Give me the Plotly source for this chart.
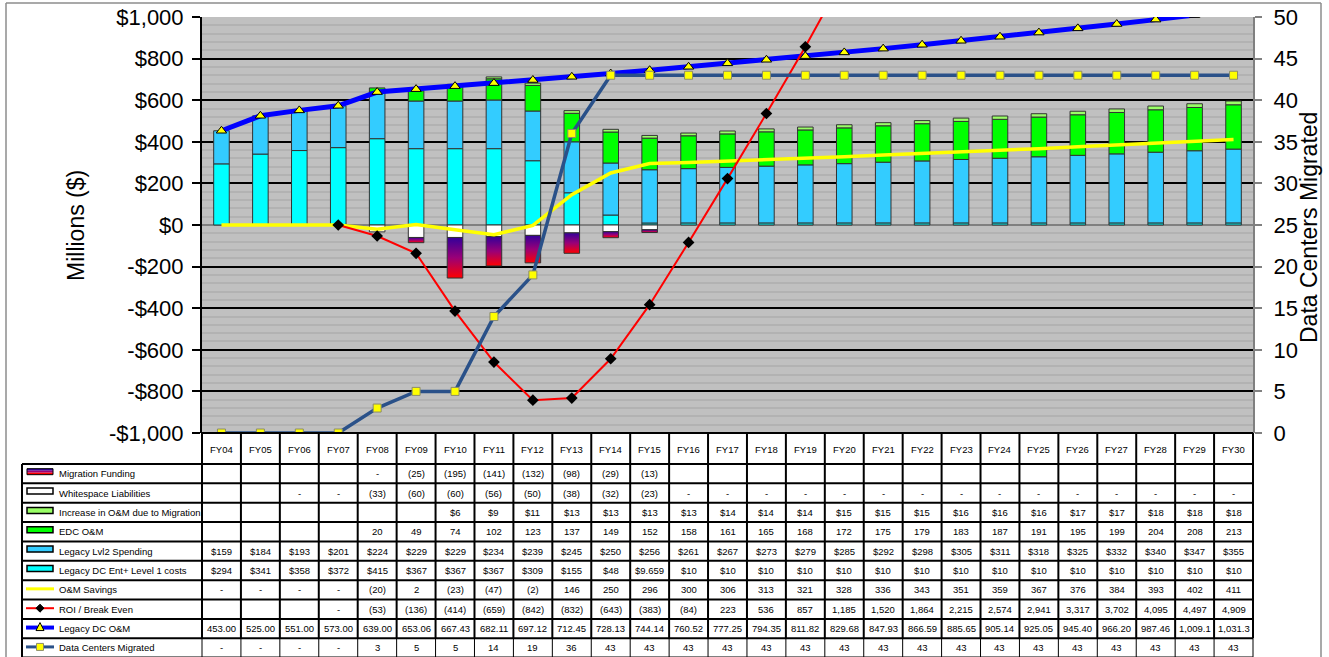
import plotly.graph_objects as go

# ---------------- data ----------------
categories = ["FY04", "FY05", "FY06", "FY07", "FY08", "FY09", "FY10", "FY11", "FY12",
              "FY13", "FY14", "FY15", "FY16", "FY17", "FY18", "FY19", "FY20", "FY21",
              "FY22", "FY23", "FY24", "FY25", "FY26", "FY27", "FY28", "FY29", "FY30"]

migration_funding = [None, None, None, None, 0, -25, -195, -141, -132, -98, -29, -13] + [None] * 15
whitespace = [None, None, 0, 0, -33, -60, -60, -56, -50, -38, -32, -23] + [0] * 15
increase_om = [None] * 6 + [6, 9, 11, 13, 13, 13, 13, 14, 14, 14, 15, 15, 15, 16, 16, 16, 17, 17, 18, 18, 18]
edc_om = [None] * 4 + [20, 49, 74, 102, 123, 137, 149, 152, 158, 161, 165, 168, 172, 175,
                       179, 183, 187, 191, 195, 199, 204, 208, 213]
legacy_lvl2 = [159, 184, 193, 201, 224, 229, 229, 234, 239, 245, 250, 256, 261, 267, 273, 279,
               285, 292, 298, 305, 311, 318, 325, 332, 340, 347, 355]
legacy_ent_l1 = [294, 341, 358, 372, 415, 367, 367, 367, 309, 155, 48, 9.659] + [10] * 15
om_savings = [0, 0, 0, 0, -20, 2, -23, -47, -2, 146, 250, 296, 300, 306, 313, 321, 328, 336,
              343, 351, 359, 367, 376, 384, 393, 402, 411]
roi = [None, None, None, 0, -53, -136, -414, -659, -842, -832, -643, -383, -84, 223, 536, 857,
       1185, 1520, 1864, 2215, 2574, 2941, 3317, 3702, 4095, 4497, 4909]
legacy_dc_om = [453.00, 525.00, 551.00, 573.00, 639.00, 653.06, 667.43, 682.11, 697.12, 712.45,
                728.13, 744.14, 760.52, 777.25, 794.35, 811.82, 829.68, 847.93, 866.59, 885.65,
                905.14, 925.05, 945.40, 966.20, 987.46, 1009.1, 1031.3]
dc_migrated = [0, 0, 0, 0, 3, 5, 5, 14, 19, 36] + [43] * 17

left_tickvals = [-1000, -800, -600, -400, -200, 0, 200, 400, 600, 800, 1000]
left_ticktext = ["-$1,000", "-$800", "-$600", "-$400", "-$200", "$0", "$200", "$400", "$600", "$800", "$1,000"]
right_tickvals = [0, 5, 10, 15, 20, 25, 30, 35, 40, 45, 50]

row_labels = ["Migration Funding", "Whitespace Liabilities", "Increase in O&M due to Migration",
              "EDC O&M", "Legacy Lvl2 Spending", "Legacy DC Ent+ Level 1 costs", "O&M Savings",
              "ROI / Break Even", "Legacy DC O&M", "Data Centers Migrated"]

# ---------------- styles ----------------
FONT = "Liberation Sans, Arial, sans-serif"
C_ENT = "#00FFFF"
C_LVL2 = "#33CCFF"
C_EDC = "#00FF00"
C_INC = "#99FF66"
C_WS = "#FFFFFF"
C_OMS = "#FFFF00"
C_ROI = "#FF0000"
C_LEG = "#0000FF"
C_DC = "#2A5189"
OUTLINE = "#333333"
BAR_W = 0.4
GRAD = [[0, "#FF0000"], [0.5, "#9A0077"], [1, "#33009A"]]

W, H = 1329, 657
L, R, T, B = 202, 1253, 17, 433
N = len(categories)
xs = list(range(N))


def px(x):
    return (x - L) / (R - L)


def py(y):
    return (B - y) / (B - T)


fig = go.Figure()

# stacked bars
for vals, col, name in [(legacy_ent_l1, C_ENT, row_labels[5]),
                        (legacy_lvl2, C_LVL2, row_labels[4]),
                        (edc_om, C_EDC, row_labels[3]),
                        (increase_om, C_INC, row_labels[2]),
                        ([None if v == 0 else v for v in whitespace], C_WS, row_labels[1])]:
    fig.add_trace(go.Bar(x=xs, y=vals, width=BAR_W, name=name,
                         marker=dict(color=col, line=dict(color=OUTLINE, width=1)),
                         hoverinfo="skip"))

# migration funding bars with vertical gradient (stacked below whitespace)
for i, f in enumerate(migration_funding):
    if f is None or f == 0:
        continue
    base = whitespace[i] or 0
    bottom = base + f
    hx = BAR_W / 2
    fig.add_trace(go.Scatter(
        x=[i - hx, i + hx, i + hx, i - hx, i - hx],
        y=[base, base, bottom, bottom, base],
        mode="lines", fill="toself",
        fillgradient=dict(type="vertical", colorscale=GRAD),
        line=dict(color=OUTLINE, width=1), hoverinfo="skip", showlegend=False))

# lines
fig.add_trace(go.Scatter(x=xs, y=legacy_dc_om, mode="lines+markers", name=row_labels[8],
                         line=dict(color=C_LEG, width=5),
                         marker=dict(symbol="triangle-up", size=9, color="#FFFF00",
                                     line=dict(color="#000000", width=1)),
                         hoverinfo="skip"))
fig.add_trace(go.Scatter(x=xs, y=om_savings, mode="lines", name=row_labels[6],
                         line=dict(color=C_OMS, width=3.5), hoverinfo="skip"))
fig.add_trace(go.Scatter(x=xs, y=roi, mode="lines+markers", name=row_labels[7],
                         line=dict(color=C_ROI, width=2),
                         marker=dict(symbol="diamond", size=9, color="#000000"),
                         hoverinfo="skip"))
fig.add_trace(go.Scatter(x=xs, y=dc_migrated, mode="lines+markers", name=row_labels[9], yaxis="y2",
                         line=dict(color=C_DC, width=3.5),
                         marker=dict(symbol="square", size=8, color="#FFFF00",
                                     line=dict(color="#8C8C6A", width=1)),
                         hoverinfo="skip"))

# ---------------- table ----------------
def f_paren(v):
    if v is None:
        return ""
    if v == 0:
        return "-"
    if v < 0:
        return f"({-v:,.0f})"
    return f"{v:,.0f}"


def f_dollar(v):
    if v is None:
        return ""
    if float(v).is_integer():
        return f"${v:,.0f}"
    return f"${v:g}"


def f_plain(v):
    return "" if v is None else f"{v:,.0f}"


def f_om(v):
    return f"{v:,.1f}" if v >= 1000 else f"{v:,.2f}"


def f_dc(v):
    return "-" if v == 0 else f"{v}"


table_rows = [
    [f_paren(v) for v in migration_funding],
    [f_paren(v) for v in whitespace],
    [f_dollar(v) for v in increase_om],
    [f_plain(v) for v in edc_om],
    [f_dollar(v) for v in legacy_lvl2],
    [f_dollar(v) for v in legacy_ent_l1],
    [f_paren(v) for v in om_savings],
    [f_paren(v) for v in roi],
    [f_om(v) for v in legacy_dc_om],
    [f_dc(v) for v in dc_migrated],
]

ROW_TOP = 464.0
ROW_H = 19.36
HEADER_Y = 449
TBL_LEFT = 22
annotations = []
shapes = []

for i, c in enumerate(categories):
    annotations.append(dict(x=(i + 0.5) / N, y=py(HEADER_Y), xref="paper", yref="paper",
                            text=c, showarrow=False, font=dict(family=FONT, size=9.5, color="#000"),
                            xanchor="center", yanchor="middle"))

for r, row in enumerate(table_rows):
    yc = ROW_TOP + ROW_H * (r + 0.5)
    for i, t in enumerate(row):
        if t:
            annotations.append(dict(x=(i + 0.5) / N, y=py(yc), xref="paper", yref="paper",
                                    text=t, showarrow=False,
                                    font=dict(family=FONT, size=9.5, color="#000"),
                                    xanchor="center", yanchor="middle"))
    annotations.append(dict(x=px(57), y=py(yc), xref="paper", yref="paper", text=row_labels[r],
                            showarrow=False, font=dict(family=FONT, size=9.5, color="#000"),
                            xanchor="left", yanchor="middle"))

# grid lines of the table
bottom_px = 700
for k in range(N + 1):
    shapes.append(dict(type="line", xref="paper", yref="paper", x0=k / N, x1=k / N,
                       y0=py(B), y1=py(ROW_TOP + ROW_H * 9), line=dict(color="#000", width=2)))
    shapes.append(dict(type="line", xref="paper", yref="paper", x0=k / N, x1=k / N,
                       y0=py(ROW_TOP + ROW_H * 9), y1=py(bottom_px), line=dict(color="#000", width=1)))
shapes.append(dict(type="line", xref="paper", yref="paper", x0=px(TBL_LEFT), x1=px(TBL_LEFT),
                   y0=py(ROW_TOP), y1=py(bottom_px), line=dict(color="#000", width=2)))
shapes.append(dict(type="line", xref="paper", yref="paper", x0=0, x1=1,
                   y0=py(B), y1=py(B), line=dict(color="#000", width=2)))
for r in range(11):
    yb = ROW_TOP + ROW_H * r
    shapes.append(dict(type="line", xref="paper", yref="paper", x0=px(TBL_LEFT), x1=1,
                       y0=py(yb), y1=py(yb), line=dict(color="#000", width=2)))

# legend keys in the first column
KX0, KX1 = 27, 53
KXC = (KX0 + KX1) / 2


def rect_key(r, color):
    yc = ROW_TOP + ROW_H * (r + 0.5) - 2
    shapes.append(dict(type="rect", xref="paper", yref="paper", x0=px(KX0), x1=px(KX1),
                       y0=py(yc - 3), y1=py(yc + 3), fillcolor=color,
                       line=dict(color="#000", width=1.5)))


# migration funding key (gradient approximated by strips)
yc0 = ROW_TOP + ROW_H * 0.5 - 2
for j, colr in enumerate(["#33009A", "#9A0077", "#FF0000"]):
    shapes.append(dict(type="rect", xref="paper", yref="paper", x0=px(KX0), x1=px(KX1),
                       y0=py(yc0 - 3 + 2 * j), y1=py(yc0 - 1 + 2 * j), fillcolor=colr,
                       line=dict(width=0)))
shapes.append(dict(type="rect", xref="paper", yref="paper", x0=px(KX0), x1=px(KX1),
                   y0=py(yc0 - 3), y1=py(yc0 + 3), line=dict(color="#000", width=1)))
rect_key(1, C_WS)
rect_key(2, C_INC)
rect_key(3, C_EDC)
rect_key(4, C_LVL2)
rect_key(5, C_ENT)


def line_key(r, color, width):
    yc = ROW_TOP + ROW_H * (r + 0.5) - 1
    shapes.append(dict(type="line", xref="paper", yref="paper", x0=px(KX0 - 1), x1=px(KX1 + 1),
                       y0=py(yc), y1=py(yc), line=dict(color=color, width=width)))
    return yc


def path_shape(pts, fill, lc, lw):
    d = "M " + " L ".join(f"{px(a):.5f},{py(b):.5f}" for a, b in pts) + " Z"
    shapes.append(dict(type="path", xref="paper", yref="paper", path=d, fillcolor=fill,
                       line=dict(color=lc, width=lw)))


line_key(6, C_OMS, 3)
yc = line_key(7, C_ROI, 2)
path_shape([(KXC, yc - 4), (KXC + 4, yc), (KXC, yc + 4), (KXC - 4, yc)], "#000", "#000", 1)
yc = line_key(8, C_LEG, 4)
path_shape([(KXC, yc - 5), (KXC + 4, yc + 3), (KXC - 4, yc + 3)], "#FFFF00", "#000", 1)
yc = line_key(9, C_DC, 3)
path_shape([(KXC - 3.5, yc - 3.5), (KXC + 3.5, yc - 3.5), (KXC + 3.5, yc + 3.5), (KXC - 3.5, yc + 3.5)],
           "#FFFF00", "#8C8C6A", 1)

# outer chart border
for (x0, y0, x1, y1) in [(6, 3, 1321, 3), (6, 3, 6, bottom_px), (1321, 3, 1321, bottom_px)]:
    shapes.append(dict(type="line", xref="paper", yref="paper", x0=px(x0), x1=px(x1),
                       y0=py(y0), y1=py(y1), line=dict(color="#8C8C8C", width=1.5)))

# axis titles
annotations.append(dict(x=px(76), y=py(226), xref="paper", yref="paper", text="Millions ($)",
                        textangle=-90, showarrow=False, font=dict(family=FONT, size=23, color="#000"),
                        xanchor="center", yanchor="middle"))
annotations.append(dict(x=px(1309), y=py(228), xref="paper", yref="paper",
                        text="Data Centers Migrated", textangle=-90, showarrow=False,
                        font=dict(family=FONT, size=23, color="#000"),
                        xanchor="center", yanchor="middle"))

fig.update_layout(
    width=W, height=H, autosize=False,
    margin=dict(l=L, r=W - R, t=T, b=H - B, pad=0, autoexpand=False),
    paper_bgcolor="#FFFFFF", plot_bgcolor="#C0C0C0",
    barmode="relative", showlegend=False,
    font=dict(family=FONT, color="#000"),
    xaxis=dict(range=[-0.5, N - 0.5], showticklabels=False, showgrid=False, zeroline=False,
               showline=False, ticks="", automargin=False),
    yaxis=dict(range=[-1000, 1000], tickvals=left_tickvals, ticktext=left_ticktext,
               tickfont=dict(family=FONT, size=22, color="#000"), automargin=False,
               ticklabelstandoff=4,
               showgrid=True, gridcolor="#000000", gridwidth=2,
               zeroline=True, zerolinecolor="#808080", zerolinewidth=2,
               showline=True, linecolor="#000", linewidth=2,
               ticks="outside", ticklen=8, tickwidth=2, tickcolor="#000",
               minor=dict(dtick=40, tick0=0, showgrid=True, gridcolor="#B2B2B2", gridwidth=2, ticks="")),
    yaxis2=dict(range=[0, 50], overlaying="y", side="right", tickvals=right_tickvals,
                tickfont=dict(family=FONT, size=22, color="#000"), automargin=False,
                ticklabelstandoff=7,
                showgrid=False, zeroline=False, showline=True, linecolor="#808080", linewidth=2,
                ticks="outside", ticklen=7, tickwidth=2, tickcolor="#808080"),
    annotations=annotations,
    shapes=shapes,
)

fig.write_html("out.html")
